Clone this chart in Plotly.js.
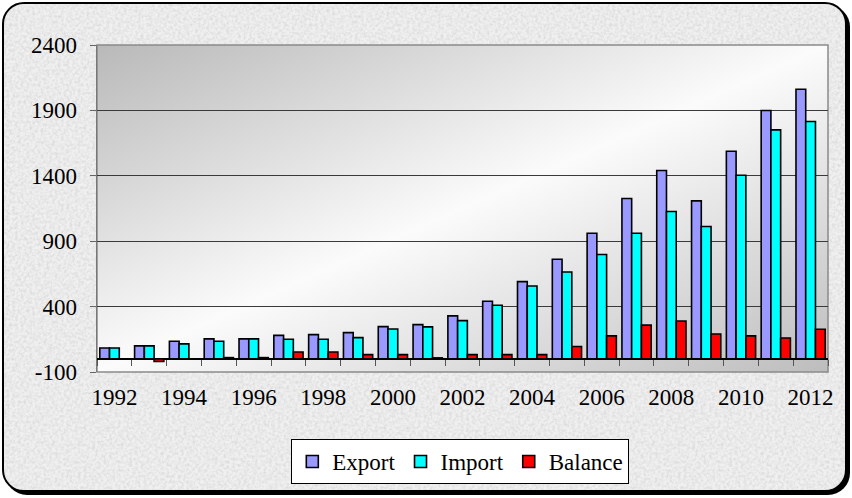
<!DOCTYPE html>
<html>
<head>
<meta charset="utf-8">
<script src="https://cdn.plot.ly/plotly-3.0.1.min.js"></script>
<style>
  html, body { margin: 0; padding: 0; width: 852px; height: 498px; overflow: hidden; background: #ffffff; }
  #frame {
    position: absolute; left: 2px; top: 2px; width: 841px; height: 486px;
    border: 2.5px solid #000; border-radius: 22px;
    box-shadow: 3px 3px 0 #000;
    background-color: #e6e6e6;
    background-image: url("data:image/svg+xml;utf8,<svg xmlns='http://www.w3.org/2000/svg' width='300' height='300'><filter id='n'><feTurbulence type='fractalNoise' baseFrequency='0.35' numOctaves='4' stitchTiles='stitch'/><feColorMatrix type='matrix' values='0 0 0 0 0.5  0 0 0 0 0.5  0 0 0 0 0.5  0 0 0 1.3 -0.45'/></filter><rect width='300' height='300' fill='%23f0f0f0'/><rect width='300' height='300' filter='url(%23n)' opacity='0.6'/></svg>");
    overflow: hidden;
  }
  #chart { position: absolute; left: -4.5px; top: -4.5px; width: 852px; height: 498px; }
  #chart text { font-family: "Liberation Serif", "Times New Roman", Times, "DejaVu Serif", serif !important; }
</style>
</head>
<body>
<div id="frame"><div id="chart"></div></div>
<script>
// ---- data ----
const years = ["1992","1993","1994","1995","1996","1997","1998","1999","2000","2001","2002",
               "2003","2004","2005","2006","2007","2008","2009","2010","2011","2012"];
const exportVals  = [84, 100, 135, 153, 153, 180, 186, 201, 247, 262, 329,
                     441, 591, 762, 961, 1226, 1440, 1208, 1588, 1899, 2062];
const importVals  = [84, 100, 115, 135, 153, 150, 150, 163, 229, 245, 293,
                     410, 558, 665, 798, 961, 1127, 1012, 1404, 1751, 1815];
const balanceVals = [null, -20, null, 10, 10, 53, 53, 33, 33, 8, 33,
                     33, 33, 95, 176, 258, 290, 191, 176, 160, 227];
const seriesNames = ["Export", "Import", "Balance"];
const yTicks = [-100, 400, 900, 1400, 1900, 2400];
const yTickText = ["-100", "400", "900", "1400", "1900", "2400"];
const xTickLabels = ["1992","1994","1996","1998","2000","2002","2004","2006","2008","2010","2012"];

const FONT = "Times New Roman, Times, serif";
const colors = ["#9999ff", "#00ffff", "#ff0000"];
const allVals = [exportVals, importVals, balanceVals];

const traces = allVals.map((v, i) => ({
  type: "bar", name: seriesNames[i], x: years, y: v,
  marker: { color: colors[i], line: { color: "#000000", width: 1.6 } },
  hoverinfo: "x+y+name"
}));
// helper trace so the boundary-tick axis at zero knows the categories
traces.push({ type: "scatter", mode: "none", x: years, y: years.map(() => null),
  xaxis: "x2", yaxis: "y", showlegend: false, hoverinfo: "skip" });

const grad = "data:image/svg+xml;utf8," + encodeURIComponent(
  "<svg xmlns='http://www.w3.org/2000/svg' width='100' height='100' preserveAspectRatio='none'>" +
  "<defs><linearGradient id='g' x1='0' y1='0' x2='1' y2='1'>" +
  "<stop offset='0' stop-color='#b9b9b9'/><stop offset='0.5' stop-color='#fbfbfb'/>" +
  "<stop offset='1' stop-color='#bdbdbd'/></linearGradient></defs>" +
  "<rect width='100' height='100' fill='url(#g)'/></svg>");

const layout = {
  width: 852, height: 498,
  margin: { l: 97, r: 24, t: 45, b: 126 },
  paper_bgcolor: "rgba(0,0,0,0)",
  plot_bgcolor: "rgba(0,0,0,0)",
  font: { family: FONT, size: 23, color: "#000000" },
  barmode: "group", bargap: 0.16, bargroupgap: 0,
  showlegend: true,
  legend: {
    orientation: "h", x: 0.497, xanchor: "center", y: -0.205, yanchor: "top",
    bgcolor: "#ffffff", bordercolor: "#000000", borderwidth: 1,
    font: { family: FONT, size: 23, color: "#000000" },
    traceorder: "normal", itemclick: false
  },
  xaxis: {
    type: "category", categoryorder: "array", categoryarray: years,
    range: [-0.5, years.length - 0.5],
    tickmode: "array", tickvals: xTickLabels, ticktext: xTickLabels,
    ticks: "", showgrid: false, zeroline: false, showline: false,
    ticklabelstandoff: 9,
    tickfont: { family: FONT, size: 23, color: "#000000" }
  },
  xaxis2: {
    type: "category", categoryorder: "array", categoryarray: years,
    overlaying: "x", anchor: "free", position: 100 / 2500, side: "bottom",
    range: [-0.5, years.length - 0.5],
    tickson: "boundaries", ticks: "outside", ticklen: 6, tickwidth: 1, tickcolor: "#555555",
    showticklabels: false, showgrid: false, zeroline: false, showline: false
  },
  yaxis: {
    range: [-100, 2400], tickmode: "array", tickvals: yTicks, ticktext: yTickText,
    ticks: "outside", ticklen: 6, tickwidth: 1, tickcolor: "#666666",
    showline: true, linecolor: "#777777", linewidth: 1.5,
    showgrid: true, gridcolor: "#3a3a3a", gridwidth: 1,
    zeroline: true, zerolinecolor: "#000000", zerolinewidth: 1.5,
    ticklabelstandoff: 8,
    tickfont: { family: FONT, size: 23, color: "#000000" }
  },
  images: [{ source: grad, xref: "paper", yref: "paper", x: 0, y: 1, sizex: 1, sizey: 1,
             sizing: "stretch", layer: "below", xanchor: "left", yanchor: "top" }],
  shapes: [{ type: "rect", xref: "paper", yref: "paper", x0: 0, x1: 1, y0: 0, y1: 1,
             line: { color: "#8a8a8a", width: 1.5 }, fillcolor: "rgba(0,0,0,0)", layer: "below" }]
};

Plotly.newPlot("chart", traces, layout, { displayModeBar: false, staticPlot: true });
</script>
</body>
</html>
